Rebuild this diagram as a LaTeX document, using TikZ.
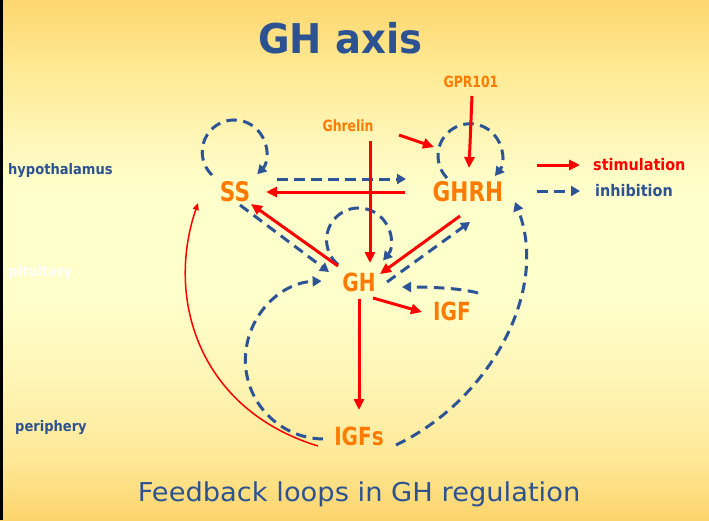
\documentclass[tikz,border=0pt]{standalone}
\usepackage{fontspec}
\setmainfont{DejaVu Sans}
\newfontfamily\fnode{DejaVu Sans}[FakeStretch=0.8]
\newfontfamily\fsmall{DejaVu Sans}[FakeStretch=0.9]
\newfontfamily\ftitle{DejaVu Sans}[FakeStretch=0.94]
\newfontfamily\fsub{DejaVu Sans}[FakeStretch=1.05]
\usetikzlibrary{arrows.meta}
\definecolor{bluetxt}{RGB}{44,82,145}
\definecolor{dashblue}{RGB}{45,85,150}
\definecolor{orng}{RGB}{255,122,0}
\definecolor{redarr}{RGB}{255,0,0}
\definecolor{bgA}{RGB}{253,214,110}
\definecolor{bgB}{RGB}{255,234,148}
\definecolor{bgC}{RGB}{255,246,185}
\definecolor{bgD}{RGB}{255,255,204}
\definecolor{bgE}{RGB}{255,255,204}
\definecolor{bgF}{RGB}{255,242,175}
\definecolor{bgG}{RGB}{255,232,150}
\definecolor{bgH}{RGB}{252,212,108}
\pgfdeclareverticalshading{bgshade}{100bp}{color(0bp)=(bgH); color(25bp)=(bgH); color(30.77bp)=(bgG); color(36.54bp)=(bgF); color(46.15bp)=(bgE); color(56.73bp)=(bgD); color(61.54bp)=(bgC); color(68.27bp)=(bgB); color(75bp)=(bgA); color(100bp)=(bgA)}
\tikzset{
  stim/.style={draw=redarr, line width=3pt, -{Triangle[length=11pt,width=10pt]}},
  thinstim/.style={draw=redarr, line width=1.5pt, -{Triangle[length=7pt,width=6pt]}},
  inhib/.style={draw=dashblue, line width=3pt, dash pattern=on 10.5pt off 6.5pt, -{Triangle[length=9pt,width=10pt]}},
  lab/.style={text=orng, inner sep=0pt},
  bigf/.style={lab, font=\fnode\bfseries\fontsize{27}{27}\selectfont},
  midf/.style={lab, font=\fnode\bfseries\fontsize{25}{25}\selectfont},
  smallf/.style={lab, font=\fnode\bfseries\fontsize{15.5}{15.5}\selectfont},
  region/.style={anchor=base west, inner sep=0pt, font=\fsmall\bfseries\fontsize{14.5}{14.5}\selectfont},
  legend/.style={anchor=base west, inner sep=0pt, font=\fsmall\bfseries\fontsize{16}{16}\selectfont}
}
\begin{document}
\begin{tikzpicture}[x=1pt,y=-1pt]
\useasboundingbox (0,0) rectangle (709,520);
\shade[shading=bgshade] (0,0) rectangle (709,520);
\fill[black] (0,0) rectangle (2.5,520);

% titles
\node[anchor=base, inner sep=0pt, text=bluetxt, font=\ftitle\bfseries\fontsize{41}{41}\selectfont] (title) at (340.5,53.5) {GH axis};
\node[anchor=base, inner sep=0pt, text=bluetxt, font=\fsub\fontsize{26}{26}\selectfont] (sub) at (359,501) {Feedback loops in GH regulation};

% region labels
\node[region, text=bluetxt] (hyp) at (8,174.3) {hypothalamus};
\node[region, text=white] (pit) at (8,276.7) {pituitary};
\node[region, text=bluetxt] (per) at (15,431.7) {periphery};

% legend
\node[legend, text=redarr] (stimtxt) at (593,170) {stimulation};
\node[legend, text=bluetxt] (inhtxt) at (595,196.7) {inhibition};
\coordinate (ls1) at (537,165);
\coordinate (le1) at (580,165);
\coordinate (ls2) at (537,191);
\coordinate (le2) at (580,191);
\draw[stim] (ls1) -- (le1);
\draw[inhib] (ls2) -- (le2);

% hormone nodes
\node[bigf] (SS) at (235,192) {SS};
\node[bigf] (GHRH) at (468,192) {GHRH};
\node[midf] (GH) at (359,282) {GH};
\node[midf] (IGF) at (452,311) {IGF};
\node[midf] (IGFs) at (359,436) {IGFs};
\node[smallf] (Ghrelin) at (348,125.5) {Ghrelin};
\node[smallf] (GPR) at (471,82) {GPR101};

% inhibition (dashed)
\draw[inhib] ([shift={(-23,-17)}]SS.center) arc[start angle=134, end angle=404, radius=32];
\draw[inhib] ([shift={(-21,-14)}]GHRH.center) arc[start angle=136, end angle=399, radius=32];
\draw[inhib] ([shift={(-21,-17.5)}]GH.center) arc[start angle=130, end angle=400, radius=32];
\draw[inhib] ([shift={(42,-13)}]SS.center) -- ([shift={(-62,-13)}]GHRH.center);
\draw[inhib] ([shift={(5,13)}]SS.center) -- ([shift={(-30,-10)}]GH.center);
\draw[inhib] ([shift={(28,0)}]GH.center) -- ([shift={(2,30)}]GHRH.center);
\draw[inhib] ([shift={(26,-18)}]IGF.center) .. controls (460,288) and (430,287) .. ([shift={(43,5)}]GH.center);
\draw[inhib] ([shift={(-36,3)}]IGFs.center) arc[start angle=91, end angle=268, radius=79];
\draw[inhib] ([shift={(37,9)}]IGFs.center) .. controls (490,400) and (550,290) .. ([shift={(47,10)}]GHRH.center);

% stimulation (solid red)
\draw[stim] ([shift={(-63,0)}]GHRH.center) -- ([shift={(31,0)}]SS.center);
\draw[stim] ([shift={(22,15.5)}]Ghrelin.center) -- ([shift={(11,-19)}]GH.center);
\draw[stim] ([shift={(51,9.5)}]Ghrelin.center) -- ([shift={(-34,-45)}]GHRH.center);
\draw[stim] ([shift={(1,14)}]GPR.center) -- ([shift={(1,-24)}]GHRH.center);
\draw[stim] ([shift={(-21,-16)}]GH.center) -- ([shift={(16,12)}]SS.center);
\draw[stim] ([shift={(-8,24)}]GHRH.center) -- ([shift={(21,-8)}]GH.center);
\draw[stim] ([shift={(14,16)}]GH.center) -- ([shift={(-30,1)}]IGF.center);
\draw[stim] ([shift={(0,17)}]GH.center) -- ([shift={(0,-26)}]IGFs.center);
\draw[thinstim] ([shift={(-41,10)}]IGFs.center) .. controls (200,410) and (165,300) .. ([shift={(-37,11)}]SS.center);
\end{tikzpicture}
\end{document}
